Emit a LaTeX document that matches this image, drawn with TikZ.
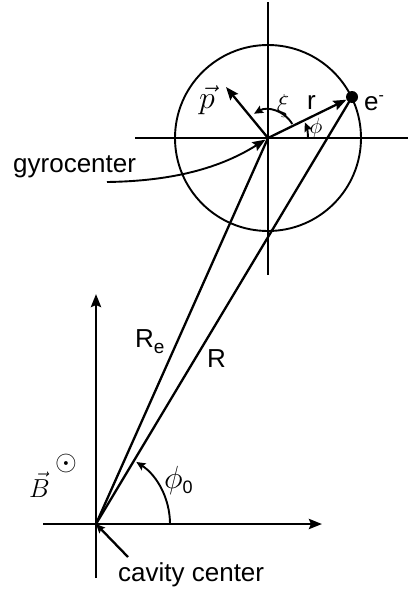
\RequirePackage{fix-cm}
\documentclass[tikz,border=0pt]{standalone}
\usepackage{fontspec}
\setmainfont{Liberation Sans}
\usetikzlibrary{arrows.meta}
\tikzset{
  fineline/.style={line width=1.9pt},
  axisline/.style={line width=2.8pt},
  vecline/.style={line width=2.3pt},
  bigtip/.style={-{Stealth[length=13pt,width=10pt,inset=2pt]}},
  smalltip/.style={-{Stealth[length=9pt,width=8pt,inset=1.5pt]}},
  txt/.style={font=\fontsize{26}{30}\selectfont, inner sep=0pt},
  mth/.style={font=\fontsize{28}{32}\selectfont, inner sep=0pt},
}
\begin{document}
\begin{tikzpicture}[x=1pt,y=-1pt]
\useasboundingbox (0,0) rectangle (409,597);
% key points
\coordinate (O) at (96,524);
\coordinate (G) at (268,138);
\node[circle,fill,inner sep=0pt,minimum size=12pt] (E) at (352,97) {};
\coordinate (hL) at (135,138);
\coordinate (hR) at (408,138);
\coordinate (vT) at (268,2);
\coordinate (vB) at (268,275);
\coordinate (xL) at (43,524);
\coordinate (xR) at (322,524);
\coordinate (yB) at (96,578);
\coordinate (yT) at (96,294);
\coordinate (P) at (226,87);
\coordinate (gs) at (107,182);
\coordinate (cs) at (128,557);

% gyro circle and crosshair
\draw[fineline] (G) circle[radius=93];
\draw[fineline] (hL) -- (hR);
\draw[fineline] (vT) -- (vB);

% cavity axes
\draw[axisline,bigtip] (xL) -- (xR);
\draw[axisline,bigtip] (yB) -- (yT);

% vectors
\draw[vecline] (O) -- (G);
\draw[vecline] (O) -- (E.center);
\draw[vecline,bigtip] (G) -- (E);
\draw[vecline,bigtip] (G) -- (P);

% angle arcs
\draw[fineline,smalltip] ([shift={(-30:28)}]G) arc[start angle=-30,end angle=-120,radius=28];
\draw[fineline,smalltip] ([shift={(0:40)}]G) arc[start angle=0,end angle=-23,radius=40];
\draw[fineline,smalltip] ([shift={(0:74)}]O) arc[start angle=0,end angle=-57,radius=74];

% pointers
\draw[fineline,bigtip,shorten >=3pt] (gs) .. controls (180,181) and (225,165) .. (G);
\draw[vecline,smalltip] (cs) -- (O);

% labels
\node[txt,anchor=base west] (gyro) at (13,172) {gyrocenter};
\node[txt,anchor=base west] (cav) at (118,581) {cavity center};
\node[txt,anchor=base west] (ReL) at (135,347) {R\raisebox{-6pt}{\fontsize{19}{19}\selectfont e}};
\node[txt,anchor=base west] (RL) at (207,367) {R};
\node[txt,anchor=base west] (rL) at (307,109) {r};
\node[txt,anchor=base west] (eL) at (364,110) {e\raisebox{10pt}{\fontsize{16}{16}\selectfont -}};
\node[mth,font=\fontsize{32}{36}\selectfont] (pL) at (207,100) {$\vec{p}$};
\node[mth,font=\fontsize{26}{30}\selectfont] (xiL) at (283,106) {$\xi$};
\node[mth,font=\fontsize{22}{26}\selectfont] (phL) at (316,128) {$\phi$};
\node[mth,font=\fontsize{32}{36}\selectfont,anchor=base west] (ph0L) at (164,488) {$\phi$\raisebox{-5pt}{\fontsize{18}{18}\selectfont 0}};
\node[mth,font=\fontsize{26}{30}\selectfont,anchor=base west] (BL) at (29,497) {$\vec{B}$};
\node[mth,font=\fontsize{28}{30}\selectfont] (odL) at (66,463) {$\odot$};
\end{tikzpicture}
\end{document}
